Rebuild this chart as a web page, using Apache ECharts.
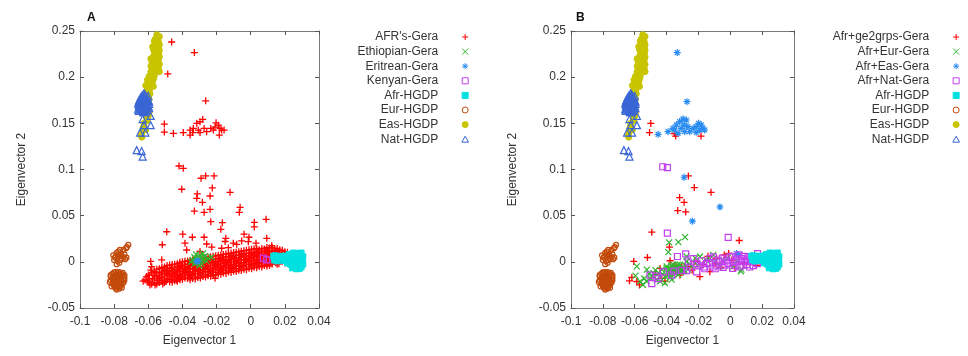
<!DOCTYPE html>
<html><head><meta charset="utf-8">
<script src="https://cdn.jsdelivr.net/npm/echarts@6/dist/echarts.min.js"></script>
<style>html,body{margin:0;padding:0;background:#fff}#c{width:968px;height:356px}</style>
</head><body><div id="c"></div>
<script>
const xTickLabels = ['-0.1','-0.08','-0.06','-0.04','-0.02','0','0.02','0.04'];
const yTickLabels = ['-0.05','0','0.05','0.1','0.15','0.2','0.25'];
const legendA = ["AFR's-Gera",'Ethiopian-Gera','Eritrean-Gera','Kenyan-Gera','Afr-HGDP','Eur-HGDP','Eas-HGDP','Nat-HGDP'];
const legendB = ['Afr+ge2grps-Gera','Afr+Eur-Gera','Afr+Eas-Gera','Afr+Nat-Gera','Afr-HGDP','Eur-HGDP','Eas-HGDP','Nat-HGDP'];

// ---- shared HGDP reference panels ----
const afrHGDP = [[0.0135,0.006],[0.0150,0.004],[0.0140,0.002],[0.0160,0.005],[0.0155,0.001],[0.0145,0.0065],
[0.019,0.004],[0.020,0.006],[0.021,0.003],[0.022,0.005],[0.022,0.001],[0.0195,0.0015],[0.0185,0.006],
[0.024,0.007],[0.024,0.004],[0.024,0.000],[0.024,-0.003],[0.023,-0.002],[0.025,0.006],[0.023,0.008],
[0.026,0.008],[0.026,0.005],[0.026,0.002],[0.026,-0.001],[0.026,-0.004],[0.025,-0.005],[0.025,0.0015],
[0.028,0.007],[0.028,0.004],[0.028,0.001],[0.028,-0.002],[0.028,-0.005],[0.027,-0.006],[0.027,0.0025],
[0.029,0.006],[0.030,0.003],[0.030,0.000],[0.029,-0.003],[0.027,0.009],[0.029,0.008],[0.0295,-0.0055],
[0.0305,0.0055],[0.0305,-0.0025],[0.0285,-0.007],[0.025,0.0095],[0.027,-0.0075],[0.0215,-0.001],
[0.0295,0.0095],[0.0245,-0.0065],[0.0225,0.0075]];
const eurHGDP = [[-0.0717,0.0184],[-0.0725,0.016],[-0.073,0.0148],[-0.0745,0.013],[-0.0766,0.013],[-0.0775,0.011],
[-0.0785,0.0096],[-0.0775,0.008],[-0.0760,0.007],[-0.0790,0.006],[-0.0775,0.006],[-0.0795,0.0046],
[-0.0756,0.0036],[-0.0736,0.0029],[-0.0745,0.005],[-0.0765,0.002],[-0.078,0.001],[-0.0785,-0.0025],
[-0.0770,-0.001],[-0.0800,0.002],[-0.076,0.009],[-0.074,0.008],[-0.0728,0.0045],[-0.0805,0.007],
[-0.079,-0.011],[-0.077,-0.011],[-0.075,-0.012],[-0.081,-0.013],[-0.079,-0.014],[-0.077,-0.014],
[-0.075,-0.015],[-0.082,-0.016],[-0.080,-0.017],[-0.078,-0.017],[-0.076,-0.018],[-0.074,-0.017],
[-0.082,-0.020],[-0.080,-0.020],[-0.078,-0.021],[-0.076,-0.021],[-0.074,-0.020],[-0.081,-0.023],
[-0.079,-0.024],[-0.077,-0.024],[-0.075,-0.023],[-0.080,-0.026],[-0.078,-0.027],[-0.076,-0.026],
[-0.079,-0.029],[-0.077,-0.029],[-0.081,-0.018],[-0.077,-0.019],[-0.079,-0.016],[-0.078,-0.012],
[-0.080,-0.0115],[-0.076,-0.0125],[-0.082,-0.0145],[-0.078,-0.0155],[-0.074,-0.0145],[-0.0765,-0.016],
[-0.0805,-0.0185],[-0.0785,-0.019],[-0.0745,-0.019],[-0.0825,-0.022],[-0.0795,-0.022],[-0.0775,-0.0225],
[-0.0745,-0.0225],[-0.0805,-0.0245],[-0.0785,-0.0255],[-0.076,-0.0245],[-0.0815,-0.0265],[-0.077,-0.027],
[-0.0795,-0.0275],[-0.0785,-0.030],[-0.0755,-0.028]];
const easHGDP = [[-0.055,0.246],[-0.054,0.243],[-0.056,0.241],[-0.054,0.238],[-0.056,0.236],[-0.055,0.234],
[-0.054,0.232],[-0.057,0.230],[-0.056,0.228],[-0.054,0.226],[-0.055,0.224],[-0.057,0.222],
[-0.056,0.220],[-0.054,0.219],[-0.058,0.218],[-0.057,0.215],[-0.056,0.213],[-0.055,0.211],
[-0.054,0.209],[-0.055,0.207],[-0.056,0.205],[-0.057,0.203],[-0.058,0.200],[-0.057,0.198],
[-0.059,0.196],[-0.060,0.194],[-0.058,0.192],[-0.057,0.190],[-0.059,0.188],[-0.060,0.186],
[-0.061,0.184],[-0.059,0.182],[-0.060,0.178],[-0.061,0.172],[-0.060,0.165],[-0.060,0.158],
[-0.061,0.156],[-0.0625,0.150],[-0.063,0.145],[-0.0635,0.141],[-0.064,0.137],[-0.0638,0.135],
[-0.0535,0.244],[-0.0565,0.239],[-0.0535,0.235],[-0.0575,0.233],[-0.0535,0.229],[-0.0565,0.225],
[-0.0535,0.222],[-0.0585,0.220],[-0.0555,0.216],[-0.0535,0.214],[-0.0585,0.212],[-0.0565,0.209],
[-0.0535,0.206],[-0.0585,0.206],[-0.0595,0.201],[-0.0565,0.201],[-0.0605,0.197],[-0.0575,0.195],
[-0.0615,0.191],[-0.0585,0.189],[-0.0605,0.189],[-0.0595,0.184],[-0.0615,0.181],[-0.0605,0.180],
[-0.0595,0.176],[-0.0615,0.175],[-0.0605,0.169],[-0.0595,0.162],[-0.0605,0.153],[-0.0625,0.147],[-0.0615,0.143]];
const natHGDP = [[-0.062,0.181],[-0.063,0.179],[-0.061,0.178],[-0.064,0.176],[-0.062,0.176],[-0.060,0.175],
[-0.065,0.173],[-0.063,0.173],[-0.061,0.172],[-0.064,0.170],[-0.062,0.170],[-0.060,0.169],
[-0.065,0.167],[-0.063,0.167],[-0.061,0.166],[-0.066,0.165],[-0.064,0.164],[-0.062,0.164],
[-0.063,0.162],[-0.065,0.169],[-0.0615,0.168],[-0.0595,0.171],[-0.0635,0.1755],[-0.0605,0.1735],
[-0.0625,0.1825],[-0.0615,0.180],[-0.0635,0.1805],[-0.0645,0.178],[-0.0625,0.1775],[-0.0605,0.177],
[-0.0655,0.1745],[-0.0645,0.1725],[-0.0625,0.1745],[-0.0595,0.1735],[-0.0655,0.1705],[-0.0635,0.1705],
[-0.0615,0.1705],[-0.0605,0.167],[-0.0655,0.1685],[-0.0645,0.166],[-0.0625,0.1665],[-0.0635,0.1645],
[-0.0655,0.1635],[-0.0615,0.1635],[-0.0625,0.162],[-0.0595,0.1665],[-0.0600,0.1795],[-0.0660,0.1715],
[-0.0586,0.158],[-0.0633,0.1546],[-0.0586,0.148],[-0.0625,0.148],[-0.0648,0.140],[-0.0617,0.140],
[-0.0668,0.121],[-0.0639,0.120],[-0.0633,0.114]];

// ---- panel A study groups ----
const afrsGeraOutliers = [[-0.0463,0.2381],[-0.033,0.2266],[-0.0486,0.2035],[-0.0264,0.1744],
[-0.0281,0.1542],[-0.0297,0.1517],[-0.0316,0.150],[-0.0336,0.1445],[-0.0355,0.1427],[-0.034,0.140],
[-0.0307,0.1427],[-0.0297,0.140],[-0.0273,0.1445],[-0.0258,0.141],[-0.0234,0.1445],[-0.0219,0.1427],
[-0.0203,0.1506],[-0.0189,0.148],[-0.018,0.1445],[-0.017,0.1427],[-0.0156,0.1427],[-0.0184,0.1373],
[-0.0395,0.140],[-0.0453,0.1391],[-0.0506,0.1405],[-0.0506,0.1492],[-0.0355,0.1373],[-0.0209,0.146],
[-0.042,0.1038],[-0.0395,0.1013],[-0.0291,0.0905],[-0.0264,0.093],[-0.0215,0.093],[-0.0404,0.0786],
[-0.0225,0.080],[-0.0121,0.0753],[-0.0313,0.0735],[-0.0316,0.0688],[-0.0238,0.0713],[-0.0283,0.0645],
[-0.033,0.055],[-0.0273,0.0536],[-0.0238,0.0569],[-0.0062,0.059],[-0.0067,0.0536],[-0.0234,0.0435],
[-0.0166,0.0424],[-0.0175,0.0352],[0.0021,0.0428],[0.0021,0.0378],[0.009,0.046],
[-0.0492,0.0326],[-0.0398,0.030],[-0.0342,0.0266],[-0.0273,0.0266],[-0.0146,0.0255],[-0.0039,0.030],
[-0.001,0.0266],[0.0094,0.0255],[-0.0518,0.0185],[-0.0521,0.0022],[-0.0586,0.0004],[-0.0385,0.0202],
[-0.0228,0.016],[-0.0102,0.0202],[-0.015,0.022],[-0.0297,0.0112],[-0.0375,0.0128],[0.0031,0.0202],
[0.0123,0.0175],[-0.0131,0.0153],[-0.0082,0.019],[-0.0014,0.0218],[-0.0053,0.0226],[-0.0258,0.0193],
[-0.017,0.0147],[-0.0619,-0.0197],[-0.056,-0.025],[-0.059,-0.025],[-0.060,-0.0143],[-0.058,-0.0053],
[-0.0434,-0.0197],[-0.0209,-0.0178],[-0.063,-0.021]];
const afrsGeraBand = [[-0.061,-0.016],[-0.0605,-0.021],
[-0.058,-0.012],[-0.0575,-0.018],[-0.058,-0.024],[-0.0585,-0.009],
[-0.055,-0.008],[-0.0555,-0.012],[-0.055,-0.016],[-0.0545,-0.020],[-0.055,-0.024],
[-0.052,-0.006],[-0.0515,-0.010],[-0.052,-0.013],[-0.0525,-0.017],[-0.052,-0.021],[-0.0515,-0.024],
[-0.049,-0.004],[-0.0495,-0.008],[-0.049,-0.011],[-0.0485,-0.014],[-0.049,-0.018],[-0.0495,-0.021],
[-0.046,-0.003],[-0.0465,-0.007],[-0.046,-0.010],[-0.0455,-0.013],[-0.046,-0.016],[-0.0465,-0.019],[-0.046,-0.022],
[-0.043,-0.002],[-0.0425,-0.006],[-0.043,-0.009],[-0.0435,-0.012],[-0.043,-0.015],[-0.0425,-0.018],[-0.043,-0.021],
[-0.040,0.000],[-0.0405,-0.004],[-0.040,-0.007],[-0.0395,-0.010],[-0.040,-0.013],[-0.0405,-0.016],[-0.040,-0.019],
[-0.037,0.001],[-0.0365,-0.003],[-0.037,-0.006],[-0.0375,-0.009],[-0.037,-0.012],[-0.0365,-0.015],[-0.037,-0.018],
[-0.034,0.002],[-0.0345,-0.002],[-0.034,-0.005],[-0.0335,-0.008],[-0.034,-0.011],[-0.0345,-0.014],[-0.034,-0.018],
[-0.031,0.003],[-0.0305,-0.001],[-0.031,-0.004],[-0.0315,-0.007],[-0.031,-0.010],[-0.0305,-0.013],[-0.031,-0.017],
[-0.028,0.004],[-0.0285,0.000],[-0.028,-0.003],[-0.0275,-0.006],[-0.028,-0.009],[-0.0285,-0.012],[-0.028,-0.016],
[-0.025,0.005],[-0.0245,0.001],[-0.025,-0.002],[-0.0255,-0.005],[-0.025,-0.008],[-0.0245,-0.011],[-0.025,-0.015],
[-0.022,0.006],[-0.0225,0.002],[-0.022,-0.001],[-0.0215,-0.004],[-0.022,-0.007],[-0.0225,-0.010],[-0.022,-0.014],
[-0.019,0.007],[-0.0185,0.003],[-0.019,0.000],[-0.0195,-0.003],[-0.019,-0.006],[-0.0185,-0.009],[-0.019,-0.013],
[-0.016,0.008],[-0.0165,0.004],[-0.016,0.001],[-0.0155,-0.002],[-0.016,-0.005],[-0.0165,-0.008],[-0.016,-0.012],
[-0.013,0.009],[-0.0125,0.005],[-0.013,0.002],[-0.0135,-0.001],[-0.013,-0.004],[-0.0125,-0.007],[-0.013,-0.011],
[-0.010,0.010],[-0.0105,0.006],[-0.010,0.003],[-0.0095,0.000],[-0.010,-0.003],[-0.0105,-0.006],[-0.010,-0.010],
[-0.007,0.011],[-0.0065,0.007],[-0.007,0.004],[-0.0075,0.001],[-0.007,-0.002],[-0.0065,-0.005],[-0.007,-0.009],
[-0.004,0.012],[-0.0045,0.008],[-0.004,0.005],[-0.0035,0.002],[-0.004,-0.001],[-0.0045,-0.004],[-0.004,-0.008],
[-0.001,0.013],[-0.0005,0.009],[-0.001,0.006],[-0.0015,0.003],[-0.001,0.000],[-0.0005,-0.003],[-0.001,-0.007],
[0.002,0.014],[0.0025,0.010],[0.002,0.007],[0.0015,0.004],[0.002,0.001],[0.0025,-0.002],[0.002,-0.006],
[0.005,0.013],[0.0045,0.010],[0.005,0.007],[0.0055,0.004],[0.005,0.001],[0.0045,-0.002],[0.005,-0.005],
[0.008,0.014],[0.0085,0.011],[0.008,0.008],[0.0075,0.005],[0.008,0.002],[0.0085,-0.001],[0.008,-0.004],
[0.011,0.015],[0.0105,0.011],[0.011,0.008],[0.0115,0.005],[0.011,0.002],[0.0105,-0.001],[0.011,-0.004],
[0.014,0.014],[0.0145,0.011],[0.014,0.008],[0.0135,0.005],[0.014,0.002],[0.0145,-0.001],
[0.017,0.013],[0.0165,0.010],[0.017,0.007],[0.0175,0.004],[0.017,0.001],[0.0165,-0.002],
[0.020,0.011],[0.0205,0.008],[0.020,0.005],[0.0195,0.002],[0.020,-0.001],
[0.023,0.008],[0.0225,0.005],[0.023,0.002],
[-0.0595,-0.0145],[-0.0595,-0.0195],[-0.0595,-0.0225],
[-0.0565,-0.0105],[-0.0565,-0.0145],[-0.0565,-0.0185],[-0.0565,-0.0225],
[-0.0535,-0.0075],[-0.0535,-0.0115],[-0.0535,-0.0145],[-0.0535,-0.0185],[-0.0535,-0.0225],
[-0.0505,-0.0055],[-0.0505,-0.0095],[-0.0505,-0.0125],[-0.0505,-0.0155],[-0.0505,-0.0195],[-0.0505,-0.0225],
[-0.0475,-0.0035],[-0.0475,-0.0065],[-0.0475,-0.0095],[-0.0475,-0.0125],[-0.0475,-0.0155],[-0.0475,-0.0195],[-0.0475,-0.0215],
[-0.0445,-0.0025],[-0.0445,-0.0055],[-0.0445,-0.0085],[-0.0445,-0.0115],[-0.0445,-0.0145],[-0.0445,-0.0175],[-0.0445,-0.0205],
[-0.0415,-0.0005],[-0.0415,-0.0045],[-0.0415,-0.0075],[-0.0415,-0.0105],[-0.0415,-0.0135],[-0.0415,-0.0165],[-0.0415,-0.0195],
[-0.0385,0.0005],[-0.0385,-0.0025],[-0.0385,-0.0055],[-0.0385,-0.0085],[-0.0385,-0.0115],[-0.0385,-0.0145],[-0.0385,-0.0175],
[-0.0355,0.0015],[-0.0355,-0.0015],[-0.0355,-0.0045],[-0.0355,-0.0075],[-0.0355,-0.0105],[-0.0355,-0.0135],[-0.0355,-0.0165],[-0.0355,-0.0195],
[-0.0325,0.0025],[-0.0325,-0.0005],[-0.0325,-0.0035],[-0.0325,-0.0065],[-0.0325,-0.0095],[-0.0325,-0.0125],[-0.0325,-0.0155],[-0.0325,-0.0185],
[-0.0295,0.0035],[-0.0295,0.0005],[-0.0295,-0.0025],[-0.0295,-0.0055],[-0.0295,-0.0085],[-0.0295,-0.0115],[-0.0295,-0.0145],[-0.0295,-0.0175],
[-0.0265,0.0045],[-0.0265,0.0015],[-0.0265,-0.0015],[-0.0265,-0.0045],[-0.0265,-0.0075],[-0.0265,-0.0105],[-0.0265,-0.0135],[-0.0265,-0.0165],
[-0.0235,0.0055],[-0.0235,0.0025],[-0.0235,-0.0005],[-0.0235,-0.0035],[-0.0235,-0.0065],[-0.0235,-0.0095],[-0.0235,-0.0125],[-0.0235,-0.0155],
[-0.0205,0.0065],[-0.0205,0.0035],[-0.0205,0.0005],[-0.0205,-0.0025],[-0.0205,-0.0055],[-0.0205,-0.0085],[-0.0205,-0.0115],[-0.0205,-0.0145],
[-0.0175,0.0075],[-0.0175,0.0045],[-0.0175,0.0015],[-0.0175,-0.0015],[-0.0175,-0.0045],[-0.0175,-0.0075],[-0.0175,-0.0105],[-0.0175,-0.0135],
[-0.0145,0.0085],[-0.0145,0.0055],[-0.0145,0.0025],[-0.0145,-0.0005],[-0.0145,-0.0035],[-0.0145,-0.0065],[-0.0145,-0.0095],[-0.0145,-0.0125],
[-0.0115,0.0095],[-0.0115,0.0065],[-0.0115,0.0035],[-0.0115,0.0005],[-0.0115,-0.0025],[-0.0115,-0.0055],[-0.0115,-0.0085],[-0.0115,-0.0115],
[-0.0085,0.0105],[-0.0085,0.0075],[-0.0085,0.0045],[-0.0085,0.0015],[-0.0085,-0.0015],[-0.0085,-0.0045],[-0.0085,-0.0075],[-0.0085,-0.0105],
[-0.0055,0.0115],[-0.0055,0.0085],[-0.0055,0.0055],[-0.0055,0.0025],[-0.0055,-0.0005],[-0.0055,-0.0035],[-0.0055,-0.0065],[-0.0055,-0.0095],
[-0.0025,0.0125],[-0.0025,0.0095],[-0.0025,0.0065],[-0.0025,0.0035],[-0.0025,0.0005],[-0.0025,-0.0025],[-0.0025,-0.0055],[-0.0025,-0.0085],
[0.0005,0.0135],[0.0005,0.0105],[0.0005,0.0075],[0.0005,0.0045],[0.0005,0.0015],[0.0005,-0.0015],[0.0005,-0.0045],[0.0005,-0.0075],
[0.0035,0.0145],[0.0035,0.0115],[0.0035,0.0085],[0.0035,0.0055],[0.0035,0.0025],[0.0035,-0.0005],[0.0035,-0.0035],[0.0035,-0.0065],
[0.0065,0.0145],[0.0065,0.0115],[0.0065,0.0085],[0.0065,0.0055],[0.0065,0.0025],[0.0065,-0.0005],[0.0065,-0.0035],[0.0065,-0.0055],
[0.0095,0.0155],[0.0095,0.0125],[0.0095,0.0095],[0.0095,0.0065],[0.0095,0.0035],[0.0095,0.0005],[0.0095,-0.0025],[0.0095,-0.0045],
[0.0125,0.0155],[0.0125,0.0125],[0.0125,0.0095],[0.0125,0.0065],[0.0125,0.0035],[0.0125,0.0005],[0.0125,-0.0025],
[0.0155,0.0145],[0.0155,0.0115],[0.0155,0.0085],[0.0155,0.0055],[0.0155,0.0025],[0.0155,-0.0005],[0.0155,-0.0025],
[0.0185,0.0125],[0.0185,0.0095],[0.0185,0.0065],[0.0185,0.0035],[0.0185,0.0005],
[0.0215,0.0105],[0.0215,0.0075],[0.0215,0.0045],[0.0215,0.0015]];
const afrsGera = [...afrsGeraOutliers, ...afrsGeraBand];
const ethiopianGera = [[-0.034,0.002],[-0.033,0.005],[-0.032,-0.001],[-0.031,0.004],[-0.030,0.007],[-0.030,0.001],
[-0.029,-0.002],[-0.029,0.005],[-0.028,0.002],[-0.031,0.000],[-0.033,-0.002],[-0.027,0.006],[-0.025,0.004],
[-0.023,0.005],[-0.032,0.008],[-0.028,0.009],[-0.035,0.000],[-0.030,-0.004],[-0.026,0.001]];
const eritreanGera = [[-0.0316,0.0004],[-0.031,0.001]];
const kenyanGera = [[0.0074,0.004],[0.0094,0.0022]];

// ---- panel B study groups ----
const afrGe2Gera = [[-0.0499,0.1499],[-0.0507,0.140],[-0.0351,0.139],[-0.0343,0.1362],[-0.0184,0.1362],
[-0.0263,0.093],[-0.0226,0.0804],[-0.0121,0.0753],[-0.0318,0.0696],[-0.029,0.0645],[-0.033,0.0555],
[-0.028,0.0541],[-0.0493,0.0321],[-0.0382,0.016],[0.0056,0.0231],[-0.0606,0.0004],[-0.052,0.0047],
[-0.0618,-0.0169],[-0.0587,-0.0213],[-0.0633,-0.0206],[-0.057,-0.025],[-0.0378,0.0012],[-0.0038,0.0075],
[-0.0086,0.0039],[0.0112,0.0002],[-0.0128,-0.0107],[-0.0264,-0.0053],[-0.0316,-0.0143],[-0.0441,-0.0071],
[-0.043,-0.018],[-0.0191,-0.0161],[0.0029,-0.0071],[0.0143,0.0017],[0.0164,-0.0037],[-0.0222,0.0002],
[-0.0347,-0.0037],[-0.001,0.009],[-0.014,0.006],[-0.041,-0.021],[-0.047,-0.013],[0.0085,-0.002],[-0.006,-0.006],
[-0.0355,-0.009],[-0.0305,-0.005],[-0.024,-0.009],[-0.017,-0.003],[-0.0095,-0.002],[0.001,0.002]];
const afrEurGera = [[-0.0326,0.0213],[-0.0284,0.0267],[-0.0384,0.021],[-0.0389,0.0105],[-0.0587,-0.005],
[-0.0595,-0.015],[-0.0566,-0.0211],[-0.0549,-0.0248],[-0.0524,-0.0085],[-0.0503,-0.0175],[-0.0482,-0.0122],
[-0.0462,-0.0193],[-0.043,-0.0085],[-0.041,-0.0157],[-0.0399,-0.005],[-0.0368,-0.0103],[-0.0357,-0.0032],
[-0.0336,-0.0085],[-0.0326,-0.0139],[-0.0316,-0.0032],[-0.0295,-0.0103],[-0.0274,0.0004],[-0.0274,0.0058],
[-0.0242,-0.005],[-0.019,0.0058],[-0.0107,0.0076],[-0.0096,0.0004],[-0.0065,-0.005],[0.0018,-0.005],
[0.007,-0.0085],[0.0066,-0.0103],[-0.0368,-0.0193],[-0.0441,-0.0211],[-0.041,-0.0229],
[-0.038,-0.008],[-0.036,-0.006],[-0.034,-0.010],[-0.032,-0.007],[-0.035,-0.012],[-0.031,-0.011],
[-0.037,-0.004],[-0.033,-0.003],[-0.030,-0.006],[-0.029,-0.009],[-0.039,-0.011],[-0.040,-0.007],
[-0.036,-0.014],[-0.034,-0.0055],[-0.038,-0.0135],[-0.0315,-0.0085],[-0.0335,-0.012],[-0.028,-0.0045],
[-0.045,-0.012],[-0.047,-0.009],[-0.051,-0.013],[-0.054,-0.018],[-0.0015,0.004],[0.004,0.001],
[-0.015,0.002],[-0.022,0.004],[-0.0445,-0.016],[-0.0485,-0.016],[-0.0525,-0.021],[-0.0375,-0.0165],
[-0.0425,-0.0135],[-0.0395,-0.0155],[-0.0355,-0.0085],[-0.0325,-0.0105],[-0.0305,-0.0075],[-0.0265,-0.0085],
[-0.0255,-0.0025],[-0.0205,-0.0035],[-0.013,0.003],[-0.0045,0.0015]];
const afrEasGera = [[-0.0333,0.2266],[-0.0272,0.1735],[-0.0453,0.1381],[-0.0391,0.141],[-0.036,0.1446],
[-0.0339,0.1482],[-0.0318,0.1519],[-0.0297,0.1547],[-0.0276,0.1536],[-0.0308,0.1446],[-0.0286,0.141],
[-0.0266,0.1465],[-0.0255,0.141],[-0.0328,0.1392],[-0.0234,0.1446],[-0.0214,0.1465],[-0.0199,0.150],
[-0.0182,0.1482],[-0.0172,0.1446],[-0.0161,0.1428],[-0.0192,0.1428],[-0.0214,0.1403],[-0.0349,0.1428],
[-0.029,0.148],[-0.029,0.0916],[-0.0065,0.0595],[-0.0238,0.044],[0.0039,0.0089],[0.005,0.0075]];
const afrNatGera = [[-0.0424,0.103],[-0.0395,0.102],[-0.0395,0.031],[-0.0013,0.0264],[-0.0332,0.0058],
[-0.028,0.0087],[0.0171,0.0089],[-0.0493,-0.0235],[-0.0504,-0.0145],[-0.0452,-0.0181],[-0.042,-0.0109],
[-0.0368,-0.0145],[-0.0305,-0.0092],[-0.0253,-0.0056],[-0.0211,-0.0109],[-0.019,-0.0037],[-0.0149,-0.0019],
[-0.0128,0.0035],[-0.0107,-0.0056],[-0.0065,-0.0002],[-0.0034,-0.0037],[-0.0003,0.0053],[0.0018,-0.0002],
[0.007,0.0035],[0.008,-0.0037],[0.0112,0.0053],[0.0133,-0.0002],[0.0039,-0.0002],[0.006,-0.0056],
[-0.0024,0.0017],[-0.0086,-0.0037],[-0.0166,-0.0056],[-0.0264,-0.0002],[-0.0233,0.0035],[-0.0107,0.0053],
[0.0196,0.0035],[0.0122,-0.0056],[0.0091,0.0006],[-0.005,0.004],[0.001,0.006],[0.004,0.003],[0.010,0.002],
[0.015,0.001],[0.017,-0.002],[0.0145,-0.004],[-0.0015,-0.002],[-0.0075,0.002],[-0.013,-0.001],[-0.018,0.001],
[0.003,-0.004],[0.0085,0.006],[-0.021,-0.002],[-0.0355,-0.010],[-0.0465,-0.0155],[0.0055,0.0075],[0.0125,0.0055],
[-0.016,-0.0075],[-0.0095,-0.0075],[-0.0045,-0.006],[0.0015,-0.007],[0.0105,-0.003],[0.0165,0.0055],[-0.0275,-0.0095]];

const SYM = {
  plus: 'path://M5,0V10M0,5H10',
  cross: 'path://M0,0L10,10M10,0L0,10',
  star: 'path://M5,0V10M0,5H10M1.5,1.5L8.5,8.5M8.5,1.5L1.5,8.5',
  square: 'path://M0,0H10V10H0Z',
  circle: 'path://M5,0A5,5,0,1,1,5,10A5,5,0,1,1,5,0Z',
  tri: 'path://M5,0L10,9L0,9Z'
};
const STY = {
  red:    {sym: SYM.plus,   size: 7, fill: 'rgba(0,0,0,0)', stroke: '#ff0000', w: 1.3},
  green:  {sym: SYM.cross,  size: 6, fill: 'rgba(0,0,0,0)', stroke: '#2fb52f', w: 1.2},
  blue:   {sym: SYM.star,   size: 7, fill: 'rgba(0,0,0,0)', stroke: '#2a8cf0', w: 1.2},
  violet: {sym: SYM.square, size: 6, fill: 'rgba(0,0,0,0)', stroke: '#c23ff0', w: 1.2},
  cyan:   {sym: SYM.square, size: 6, fill: '#00e0e0', stroke: '#00e0e0', w: 1},
  brown:  {sym: SYM.circle, size: 5, fill: 'rgba(0,0,0,0)', stroke: '#c24a0a', w: 1.2},
  yellow: {sym: SYM.circle, size: 6, fill: '#c8c400', stroke: '#c8c400', w: 1},
  nat:    {sym: SYM.tri,    size: 7, fill: 'rgba(0,0,0,0)', stroke: '#3a66d6', w: 1.2}
};
const styleOrder = ['red','green','blue','violet','cyan','brown','yellow','nat'];
const dataA = [afrsGera, ethiopianGera, eritreanGera, kenyanGera, afrHGDP, eurHGDP, easHGDP, natHGDP];
const dataB = [afrGe2Gera, afrEurGera, afrEasGera, afrNatGera, afrHGDP, eurHGDP, easHGDP, natHGDP];

const FONT = 'Liberation Sans';
const TXT = '#333';
const LINE = {onZero: false, lineStyle: {color: '#7a7a7a'}};
const TICK = {inside: true, length: 4, lineStyle: {color: '#555'}};
function axesX(gi) {
  return [
    {gridIndex: gi, type: 'value', min: -0.1, max: 0.04, interval: 0.02, position: 'bottom',
     name: 'Eigenvector 1', nameLocation: 'middle', nameGap: 27,
     nameTextStyle: {fontFamily: FONT, fontSize: 12, color: TXT},
     axisLine: LINE, axisTick: TICK,
     axisLabel: {margin: 8, fontFamily: FONT, fontSize: 12, color: TXT, formatter: (v, i) => xTickLabels[i]},
     splitLine: {show: false}},
    {gridIndex: gi, type: 'value', min: -0.1, max: 0.04, interval: 0.02, position: 'top',
     axisLine: LINE, axisTick: TICK, axisLabel: {show: false}, splitLine: {show: false}}
  ];
}
function axesY(gi) {
  return [
    {gridIndex: gi, type: 'value', min: -0.05, max: 0.25, interval: 0.05, position: 'left',
     name: 'Eigenvector 2', nameLocation: 'middle', nameGap: 52, nameRotate: 90,
     nameTextStyle: {fontFamily: FONT, fontSize: 12, color: TXT},
     axisLine: LINE, axisTick: TICK,
     axisLabel: {margin: 5, fontFamily: FONT, fontSize: 12, color: TXT, formatter: (v, i) => yTickLabels[i]},
     splitLine: {show: false}},
    {gridIndex: gi, type: 'value', min: -0.05, max: 0.25, interval: 0.05, position: 'right',
     axisLine: LINE, axisTick: TICK, axisLabel: {show: false}, splitLine: {show: false}}
  ];
}
function makeSeries(names, datas, xi, yi) {
  return names.map((n, k) => {
    const s = STY[styleOrder[k]];
    return {type: 'scatter', name: n, xAxisIndex: xi, yAxisIndex: yi, data: datas[k],
      symbol: s.sym, symbolSize: s.size, silent: true, emphasis: {disabled: true},
      itemStyle: {color: s.fill, borderColor: s.stroke, borderWidth: s.w, opacity: 1}};
  });
}
function makeLegend(names, rightPx) {
  return {orient: 'vertical', align: 'right', right: rightPx, top: 30, padding: 0,
    itemWidth: 44, itemHeight: 6, itemGap: 0.6, selectedMode: false,
    textStyle: {fontFamily: FONT, fontSize: 12, color: TXT, lineHeight: 14},
    data: names.map((n, k) => {
      const s = STY[styleOrder[k]];
      return {name: n, icon: s.sym, itemStyle: {color: s.fill, borderColor: s.stroke, borderWidth: 1}};
    })};
}
const chart = echarts.init(document.getElementById('c'), null, {renderer: 'canvas'});
chart.setOption({
  animation: false,
  backgroundColor: '#fff',
  title: [
    {text: 'A', left: 82, top: 7, textStyle: {fontFamily: FONT, fontSize: 12, fontWeight: 'bold', color: '#111'}},
    {text: 'B', left: 571, top: 7, textStyle: {fontFamily: FONT, fontSize: 12, fontWeight: 'bold', color: '#111'}}
  ],
  grid: [
    {left: 80, top: 31, width: 239, height: 277, show: false},
    {left: 571, top: 31, width: 223, height: 277, show: false}
  ],
  xAxis: [...axesX(0), ...axesX(1)],
  yAxis: [...axesY(0), ...axesY(1)],
  legend: [makeLegend(legendA, 499), makeLegend(legendB, 8)],
  series: [...makeSeries(legendA, dataA, 0, 0), ...makeSeries(legendB, dataB, 2, 2)]
});
</script></body></html>
